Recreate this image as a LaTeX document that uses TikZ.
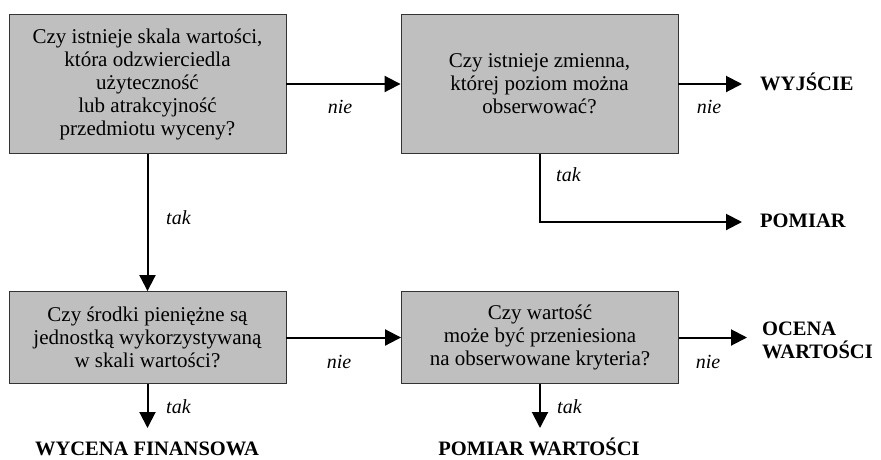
\documentclass[tikz,border=0pt]{standalone}
\usepackage{fontspec}
\setmainfont{Liberation Serif}
\usetikzlibrary{arrows.meta}
\begin{document}
\begin{tikzpicture}[x=1pt,y=-1pt,
  qbox/.style={draw=black!80, line width=0.9pt, fill=black!25, align=center, inner sep=0pt,
     minimum width=277pt, font=\fontsize{21}{23}\selectfont},
  conn/.style={line width=2pt, -{Triangle[length=16pt,width=16pt]}},
  lbl/.style={font=\fontsize{20}{22}\selectfont\itshape, inner sep=0pt},
  outl/.style={font=\fontsize{20.5}{23}\selectfont\bfseries, inner sep=0pt, align=left}]
\useasboundingbox (0,0) rectangle (881,459);
\node[qbox, minimum height=139pt] (b1) at (147.5,84)
  {Czy istnieje skala wartości,\\która odzwierciedla\\użyteczność\\lub atrakcyjność\\przedmiotu wyceny?};
\node[qbox, minimum height=139pt] (b2) at (539.5,84)
  {Czy istnieje zmienna,\\której poziom można\\obserwować?};
\node[qbox, minimum height=92pt] (b3) at (147.5,337.5)
  {Czy środki pieniężne są\\jednostką wykorzystywaną\\w skali wartości?};
\node[qbox, minimum height=92pt] (b4) at (540,337.5)
  {Czy wartość\\może być przeniesiona\\na obserwowane kryteria?};
% outputs
\node[outl, anchor=base west] (wy) at (760,90) {WYJŚCIE};
\node[outl, anchor=base west] (pm) at (760,227) {POMIAR};
\node[outl, anchor=base west] (oc) at (762,358) {OCENA\\WARTOŚCI};
\node[outl, anchor=base, text depth=0pt] (wf) at (147,455) {WYCENA FINANSOWA};
\node[outl, anchor=base, text depth=0pt] (pw) at (539,455) {POMIAR WARTOŚCI};
\coordinate (wyE) at (742,84);
\coordinate (pmE) at (742,222);
\coordinate (ocE) at (747,337.5);
\coordinate (wfE) at (147.5,428);
\coordinate (pwE) at (540,428);
% connectors
\draw[conn] (b1.east) -- (b2.west);
\draw[conn] (b2.east) -- (wyE);
\draw[conn] (b2.south) |- (pmE);
\draw[conn] (b1.south) -- (b3.north);
\draw[conn] (b3.east) -- (b4.west);
\draw[conn] (b4.east) -- (ocE);
\draw[conn] (b3.south) -- (wfE);
\draw[conn] (b4.south) -- (pwE);
% labels
\node[lbl] (n1) at (340,107) {nie};
\node[lbl] (n2) at (709,107) {nie};
\node[lbl] (n3) at (339,362) {nie};
\node[lbl] (n4) at (708,362) {nie};
\node[lbl, anchor=west] (t1) at (166,218) {tak};
\node[lbl, anchor=west] (t2) at (556,175) {tak};
\node[lbl, anchor=west] (t3) at (166,407) {tak};
\node[lbl, anchor=west] (t4) at (557,407) {tak};
\end{tikzpicture}
\end{document}
